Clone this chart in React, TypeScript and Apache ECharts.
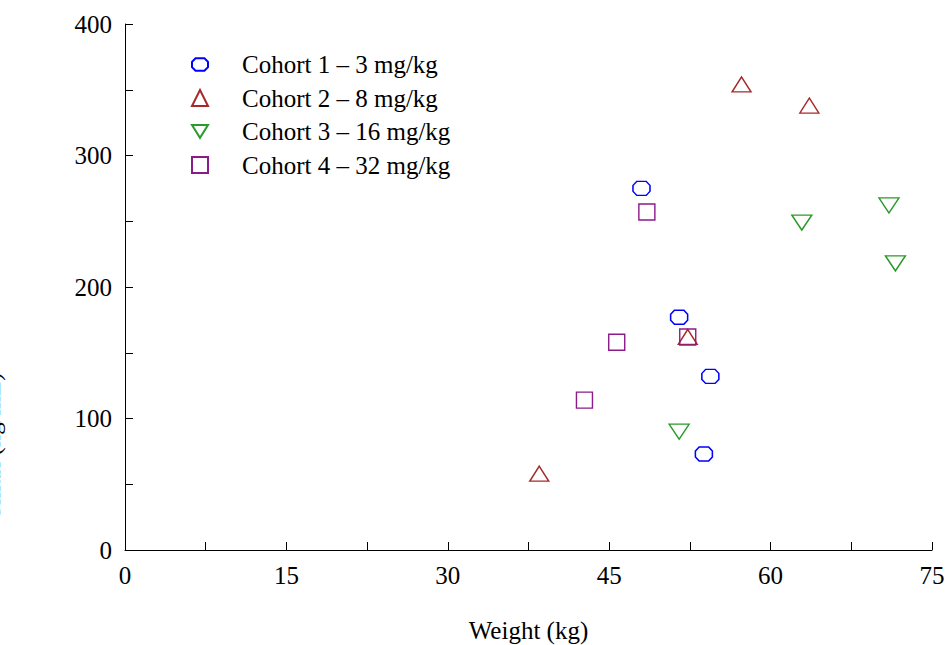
import React, { useEffect, useRef } from "react";
import * as echarts from "echarts";

const seriesNames = [
  "Cohort 1 – 3 mg/kg",
  "Cohort 2 – 8 mg/kg",
  "Cohort 3 – 16 mg/kg",
  "Cohort 4 – 32 mg/kg",
];

const cohort1: [number, number][] = [
  [48.0, 275],
  [51.5, 177],
  [54.4, 132],
  [53.8, 73],
];
const cohort2: [number, number][] = [
  [57.3, 354],
  [63.6, 338],
  [52.3, 162],
  [38.5, 58],
];
const cohort3: [number, number][] = [
  [62.9, 249],
  [71.0, 262],
  [71.6, 218],
  [51.5, 90],
];
const cohort4: [number, number][] = [
  [48.5, 257],
  [45.7, 158],
  [42.7, 114],
  [52.3, 162],
];

const xTickStep = 7.5;
const xLabelStep = 15;
const yTickStep = 50;
const yLabelStep = 100;

const colors = ["#0000ff", "#a52a2a", "#2a9a2a", "#8b1a8b"];
const FONT = "'Liberation Serif', 'Times New Roman', serif";
const FS = 25;

export default function App() {
  const ref = useRef<HTMLDivElement>(null);
  useEffect(() => {
    if (!ref.current) return;
    const chart = echarts.init(ref.current, null, { renderer: "svg" });
    const octagon = "path://M4,0 L14,0 L18,4 L18,10 L14,14 L4,14 L0,10 L0,4 Z";
    const downTri = "path://M0,0 L20,0 L10,16 Z";
    const symbols = [octagon, "triangle", downTri, "rect"];
    const sizes: any[] = [[17, 14], [19, 15], [20, 15], [16, 16]];
    const datas = [cohort1, cohort2, cohort3, cohort4];
    chart.setOption({
      animation: false,
      backgroundColor: "#fff",
      textStyle: { fontFamily: FONT },
      grid: {
        left: 125,
        right: 16,
        top: 24,
        bottom: 95,
        containLabel: false,
        outerBoundsMode: "none",
      },
      legend: {
        orient: "vertical",
        left: 186,
        top: 47,
        itemWidth: 16,
        itemHeight: 16,
        itemGap: 8.5,
        textStyle: { fontFamily: FONT, fontSize: FS, color: "#000", padding: [0, 0, 0, 29] },
        data: seriesNames,
      },
      xAxis: {
        type: "value",
        min: 0,
        max: 75,
        interval: xTickStep,
        name: "Weight (kg)",
        nameLocation: "middle",
        nameGap: 68,
        nameTextStyle: { fontFamily: FONT, fontSize: FS, color: "#000" },
        axisLine: { lineStyle: { color: "#000", width: 1 } },
        axisTick: { inside: true, length: 8, lineStyle: { color: "#000" } },
        splitLine: { show: false },
        axisLabel: {
          fontFamily: FONT,
          fontSize: FS,
          color: "#000",
          margin: 13,
          formatter: (v: number) => (v % xLabelStep === 0 ? String(v) : ""),
        },
      },
      yAxis: {
        type: "value",
        min: 0,
        max: 400,
        interval: yTickStep,
        name: "Cmax (ng/mL)",
        nameLocation: "middle",
        nameRotate: 90,
        nameGap: 121,
        nameTextStyle: {
          fontFamily: FONT,
          fontSize: FS,
          color: "#000",
          padding: [0, 320, 0, 0],
        },
        axisLine: { show: true, lineStyle: { color: "#000", width: 1 } },
        axisTick: { inside: true, length: 8, lineStyle: { color: "#000" } },
        splitLine: { show: false },
        axisLabel: {
          fontFamily: FONT,
          fontSize: FS,
          color: "#000",
          margin: 13,
          formatter: (v: number) => (v % yLabelStep === 0 ? String(v) : ""),
        },
      },
      series: seriesNames.map((name, i) => ({
        name,
        type: "scatter",
        data: datas[i],
        symbol: symbols[i],
        symbolSize: sizes[i],
        itemStyle: {
          color: "rgba(0,0,0,0)",
          borderColor: colors[i],
          borderWidth: 1.4,
          opacity: 1,
        },
        emphasis: { disabled: true },
      })),
    });
    return () => chart.dispose();
  }, []);
  return (
    <div
      ref={ref}
      style={{ position: "fixed", left: 0, top: 0, width: 948, height: 645 }}
    />
  );
}
